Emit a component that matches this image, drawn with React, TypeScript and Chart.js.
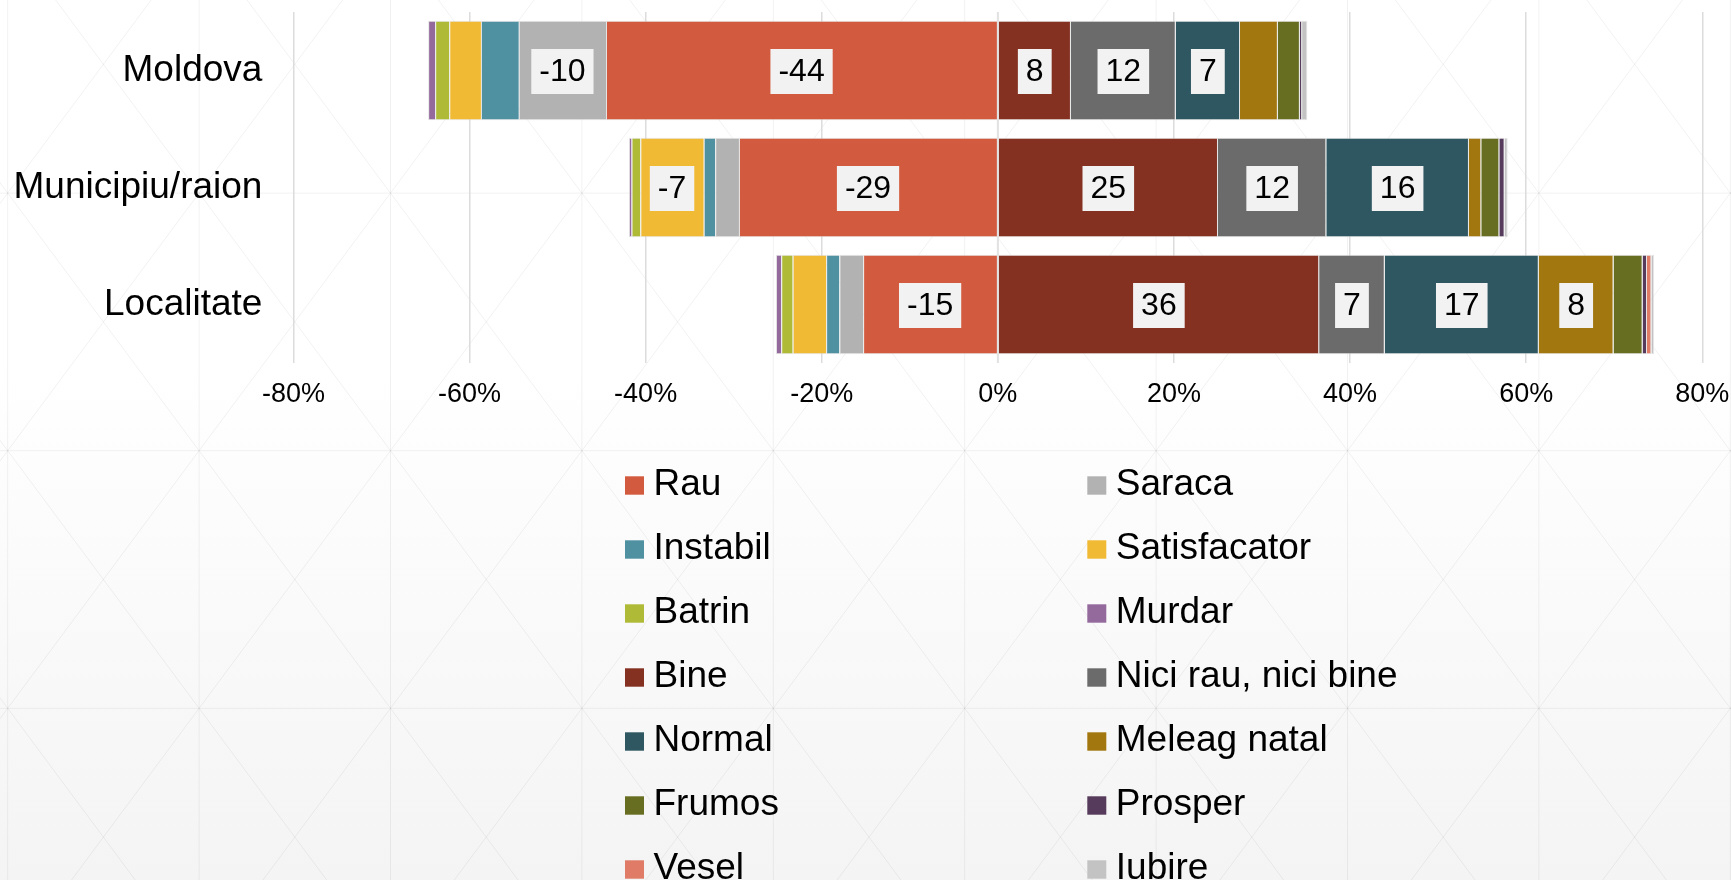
import React, { useEffect, useRef } from 'react';
import { Chart, registerables } from 'chart.js';

Chart.register(...registerables);

const FONT = '"Liberation Sans", Arial, sans-serif';

// ---- data ----
const categories = ['Moldova', 'Municipiu/raion', 'Localitate'];
const xTickValues = [-80, -60, -40, -20, 0, 20, 40, 60, 80];

const rau = [-44.5, -29.4, -15.3];
const saraca = [-9.9, -2.7, -2.7];
const instabil = [-4.3, -1.3, -1.5];
const satisfacator = [-3.6, -7.2, -3.8];
const batrin = [-1.6, -1.0, -1.3];
const murdar = [-0.8, -0.3, -0.6];
const bine = [8.3, 25.0, 36.49];
const niciRauNiciBine = [11.9, 12.3, 7.45];
const normal = [7.3, 16.2, 17.49];
const meleagNatal = [4.3, 1.4, 8.49];
const frumos = [2.5, 2.05, 3.3];
const prosper = [0.25, 0.6, 0.5];
const vesel = [0, 0, 0.5];
const iubire = [0.6, 0.35, 0.3];

const seriesNames = [
  'Rau', 'Saraca', 'Instabil', 'Satisfacator', 'Batrin', 'Murdar',
  'Bine', 'Nici rau, nici bine', 'Normal', 'Meleag natal', 'Frumos',
  'Prosper', 'Vesel', 'Iubire',
];
const seriesValues = [
  rau, saraca, instabil, satisfacator, batrin, murdar,
  bine, niciRauNiciBine, normal, meleagNatal, frumos, prosper, vesel, iubire,
];
const seriesColors = [
  '#D25A3E', '#B2B2B2', '#4F91A1', '#F0BA35', '#AFBA36', '#946A9D',
  '#843122', '#6B6B6B', '#2E5762', '#A3770F', '#676E22', '#563B5C',
  '#DF7B66', '#C3C3C3',
];

const LABEL_MIN = 5;

const backgroundPlugin = {
  id: 'bgPattern',
  beforeDraw(chart: any) {
    const { ctx, width, height } = chart;
    ctx.save();
    const g = ctx.createLinearGradient(0, 0, 0, height);
    g.addColorStop(0, '#ffffff');
    g.addColorStop(0.42, '#ffffff');
    g.addColorStop(1, '#f4f4f4');
    ctx.fillStyle = g;
    ctx.fillRect(0, 0, width, height);
    ctx.strokeStyle = 'rgba(0,0,0,0.055)';
    ctx.lineWidth = 1;
    const cw = 191.4;
    const ch = 257.6;
    const x0 = 7.7;
    const y0 = 193.1 - ch;
    ctx.beginPath();
    for (let x = x0 - cw; x < width + cw; x += cw) {
      for (let y = y0; y < height + ch; y += ch) {
        ctx.moveTo(x, y);
        ctx.lineTo(x + cw, y + ch);
        ctx.moveTo(x + cw, y);
        ctx.lineTo(x, y + ch);
      }
    }
    for (let x = x0; x < width; x += cw) {
      ctx.moveTo(x, 0);
      ctx.lineTo(x, height);
    }
    for (let y = y0; y < height; y += ch) {
      ctx.moveTo(0, y);
      ctx.lineTo(width, y);
    }
    ctx.stroke();
    ctx.restore();
  },
};

const labelsPlugin = {
  id: 'barLabels',
  afterDatasetsDraw(chart: any) {
    const { ctx, chartArea } = chart;
    const zx = chart.scales.x.getPixelForValue(0);
    ctx.save();
    ctx.strokeStyle = '#e2e2e2';
    ctx.lineWidth = 2;
    ctx.beginPath();
    ctx.moveTo(zx, chartArea.top);
    ctx.lineTo(zx, chartArea.bottom);
    ctx.stroke();

    ctx.font = `32px ${FONT}`;
    ctx.textAlign = 'center';
    ctx.textBaseline = 'middle';
    chart.data.datasets.forEach((ds: any, i: number) => {
      const meta = chart.getDatasetMeta(i);
      meta.data.forEach((el: any, j: number) => {
        const v = ds.data[j] as number;
        if (Math.abs(v) < LABEL_MIN) return;
        const text = String(Math.round(v));
        const { x, base, y } = el.getProps(['x', 'base', 'y'], true);
        const cx = (x + base) / 2;
        const w = ctx.measureText(text).width + 16;
        const h = 45;
        ctx.fillStyle = '#f2f2f2';
        ctx.fillRect(cx - w / 2, y - h / 2 + 1, w, h);
        ctx.fillStyle = '#000000';
        ctx.fillText(text, cx, y + 2);
      });
    });
    ctx.restore();
  },
};

const legendPlugin = {
  id: 'gridLegend',
  afterDraw(chart: any) {
    const { ctx } = chart;
    ctx.save();
    ctx.font = `37px ${FONT}`;
    ctx.textAlign = 'left';
    ctx.textBaseline = 'middle';
    const colBox = [625, 1087.3];
    chart.data.datasets.forEach((ds: any, i: number) => {
      const col = i % 2;
      const row = Math.floor(i / 2);
      const cy = 485.5 + row * 64;
      const bx = colBox[col];
      ctx.fillStyle = ds.backgroundColor;
      ctx.fillRect(bx, cy - 9.2, 19, 18.4);
      ctx.fillStyle = '#000000';
      ctx.fillText(ds.label, bx + 28.5, cy - 0.5);
    });
    ctx.restore();
  },
};

export default function App() {
  const canvasRef = useRef<HTMLCanvasElement | null>(null);

  useEffect(() => {
    if (!canvasRef.current) return;
    Chart.defaults.font.family = FONT;
    Chart.defaults.color = '#000000';

    const datasets = seriesNames.map((name, i) => ({
      label: name,
      data: seriesValues[i],
      backgroundColor: seriesColors[i],
      borderColor: 'rgba(215,215,215,0.65)',
      borderWidth: 1,
      barPercentage: 0.85,
      categoryPercentage: 1,
    }));

    const chart = new Chart(canvasRef.current, {
      type: 'bar',
      data: { labels: categories, datasets },
      options: {
        indexAxis: 'y',
        responsive: false,
        animation: false,
        devicePixelRatio: 1,
        layout: { padding: { left: 0, right: 28.7, top: 12, bottom: 457 } },
        scales: {
          x: {
            stacked: true,
            min: xTickValues[0],
            max: xTickValues[xTickValues.length - 1],
            afterBuildTicks: (scale: any) => {
              scale.ticks = xTickValues.map((v) => ({ value: v }));
            },
            ticks: {
              callback: (v: any) => `${v}%`,
              font: { size: 27, family: FONT },
              color: '#000000',
              padding: 15,
              maxRotation: 0,
              autoSkip: false,
            },
            grid: { color: '#dcdcdc', lineWidth: 1.5, drawTicks: false },
            border: { display: false },
            afterFit: (scale: any) => {
              scale.height = 60;
              scale.paddingLeft = 0;
              scale.paddingRight = 0;
            },
          },
          y: {
            stacked: true,
            ticks: {
              font: { size: 37, family: FONT },
              color: '#000000',
              padding: 31,
            },
            grid: { display: false, drawTicks: false },
            border: { display: false },
            afterFit: (scale: any) => {
              scale.width = 293.4;
              scale.paddingTop = 0;
              scale.paddingBottom = 0;
            },
          },
        },
        plugins: {
          legend: { display: false },
          tooltip: { enabled: false },
        },
      } as any,
      plugins: [backgroundPlugin, labelsPlugin, legendPlugin],
    });
    return () => chart.destroy();
  }, []);

  return (
    <div style={{ position: 'fixed', left: 0, top: 0, width: 1731, height: 880, overflow: 'hidden' }}>
      <canvas ref={canvasRef} width={1731} height={880} style={{ display: 'block' }} />
    </div>
  );
}
